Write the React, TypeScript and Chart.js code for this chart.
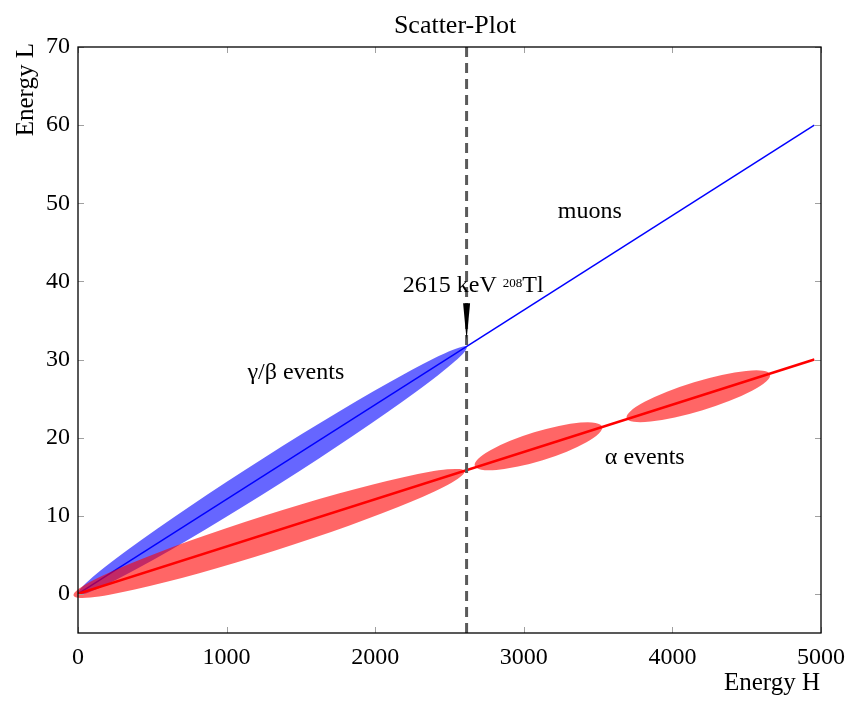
import { useEffect, useRef } from "react";
import { Chart, registerables } from "chart.js";

Chart.register(...registerables);

const FONT = '"Liberation Serif", "Times New Roman", serif';

// axis ticks
const xTicks = [0, 1000, 2000, 3000, 4000, 5000];
const yTicks = [0, 10, 20, 30, 40, 50, 60, 70];

// straight lines (γ/β and α populations)
const gammaLineX = [0, 4955];
const gammaLineY = [0, 60];
const alphaLineX = [0, 4955];
const alphaLineY = [0, 30];

// 2615 keV marker line
const markerX = [2615, 2615];
const markerY = [-5, 70];

// γ/β event band: endpoints and half thickness (y units)
const gammaBandX1 = [0];
const gammaBandY1 = [0];
const gammaBandX2 = [2615];
const gammaBandY2 = [31.6];
const gammaBandHalf = [2.3];

// α event bands
const alphaBandX1 = [-30, 2670, 3692];
const alphaBandY1 = [-0.2, 16.4, 22.5];
const alphaBandX2 = [2600, 3527, 4657];
const alphaBandY2 = [15.7, 21.4, 28.1];
const alphaBandHalf = [2.45, 1.95, 1.95];

// arrow (x, top y, tip y)
const arrowX = [2615];
const arrowTopY = [37.2];
const arrowTipY = [32.5];

// annotation texts
const labelTexts = ["muons", "γ/β events", "α events"];
const labelX = [3444, 1466, 3814];
const labelY = [48.9, 28.3, 17.4];
const tlLabelX = 2186;
const tlLabelY = 38.7;

function drawBand(ctx: CanvasRenderingContext2D, xs: any, ys: any, x1: number, y1: number, x2: number, y2: number, half: number, color: string) {
  const px1 = xs.getPixelForValue(x1);
  const py1 = ys.getPixelForValue(y1);
  const px2 = xs.getPixelForValue(x2);
  const py2 = ys.getPixelForValue(y2);
  const cx = (px1 + px2) / 2;
  const cy = (py1 + py2) / 2;
  const dx = px2 - px1;
  const dy = py2 - py1;
  const ang = Math.atan2(dy, dx);
  const a = Math.sqrt(dx * dx + dy * dy) / 2;
  const vert = Math.abs(ys.getPixelForValue(0) - ys.getPixelForValue(half));
  const b = vert * Math.cos(ang);
  ctx.save();
  ctx.fillStyle = color;
  ctx.beginPath();
  ctx.ellipse(cx, cy, a, Math.abs(b), ang, 0, Math.PI * 2);
  ctx.fill();
  ctx.restore();
}

const overlayPlugin = {
  id: "overlay",
  beforeDatasetDraw(chart: any, args: any) {
    const ds = chart.data.datasets[args.index];
    const ctx = chart.ctx;
    const xs = chart.scales.x;
    const ys = chart.scales.y;
    if (ds.label === "gamma") {
      for (let i = 0; i < gammaBandX1.length; i++) {
        drawBand(ctx, xs, ys, gammaBandX1[i], gammaBandY1[i], gammaBandX2[i], gammaBandY2[i], gammaBandHalf[i], "rgba(0,0,255,0.6)");
      }
    }
    if (ds.label === "alpha") {
      for (let i = 0; i < alphaBandX1.length; i++) {
        drawBand(ctx, xs, ys, alphaBandX1[i], alphaBandY1[i], alphaBandX2[i], alphaBandY2[i], alphaBandHalf[i], "rgba(255,0,0,0.6)");
      }
    }
  },
  afterDatasetsDraw(chart: any) {
    const ctx = chart.ctx;
    const xs = chart.scales.x;
    const ys = chart.scales.y;
    ctx.save();
    // arrow
    for (let i = 0; i < arrowX.length; i++) {
      const ax = xs.getPixelForValue(arrowX[i]);
      const at = ys.getPixelForValue(arrowTopY[i]);
      const ab = ys.getPixelForValue(arrowTipY[i]);
      ctx.fillStyle = "#000";
      ctx.beginPath();
      ctx.moveTo(ax - 3.5, at);
      ctx.lineTo(ax + 3.5, at);
      ctx.lineTo(ax, ab);
      ctx.closePath();
      ctx.fill();
    }
    // labels
    ctx.fillStyle = "#000";
    ctx.font = `24px ${FONT}`;
    ctx.textAlign = "center";
    ctx.textBaseline = "middle";
    for (let i = 0; i < labelTexts.length; i++) {
      ctx.fillText(labelTexts[i], xs.getPixelForValue(labelX[i]), ys.getPixelForValue(labelY[i]));
    }
    // 2615 keV 208Tl
    ctx.textAlign = "left";
    ctx.textBaseline = "alphabetic";
    let tx = xs.getPixelForValue(tlLabelX);
    const ty = ys.getPixelForValue(tlLabelY);
    ctx.font = `24px ${FONT}`;
    const p1 = "2615 keV ";
    ctx.fillText(p1, tx, ty);
    tx += ctx.measureText(p1).width;
    ctx.font = `13px ${FONT}`;
    ctx.fillText("208", tx, ty - 5);
    tx += ctx.measureText("208").width;
    ctx.font = `24px ${FONT}`;
    ctx.fillText("Tl", tx, ty);
    ctx.restore();
  },
  afterDraw(chart: any) {
    const ctx = chart.ctx;
    const { left, right, top, bottom } = chart.chartArea;
    const xs = chart.scales.x;
    const ys = chart.scales.y;
    ctx.save();
    // tick marks inside on all sides
    ctx.strokeStyle = "#a0a0a0";
    ctx.lineWidth = 1;
    ctx.beginPath();
    for (const v of xTicks) {
      const px = Math.round(xs.getPixelForValue(v)) + 0.5;
      ctx.moveTo(px, bottom);
      ctx.lineTo(px, bottom - 6);
      ctx.moveTo(px, top);
      ctx.lineTo(px, top + 6);
    }
    for (const v of yTicks) {
      const py = Math.round(ys.getPixelForValue(v)) + 0.5;
      ctx.moveTo(left, py);
      ctx.lineTo(left + 6, py);
      ctx.moveTo(right, py);
      ctx.lineTo(right - 6, py);
    }
    ctx.stroke();
    // frame
    ctx.strokeStyle = "#000";
    ctx.lineWidth = 1.3;
    ctx.strokeRect(left, top, right - left, bottom - top);
    // title
    ctx.fillStyle = "#000";
    ctx.font = `26px ${FONT}`;
    ctx.textAlign = "center";
    ctx.textBaseline = "alphabetic";
    ctx.fillText("Scatter-Plot", (left + right) / 2 + 5.5, top - 14);
    // x title
    ctx.font = `25px ${FONT}`;
    ctx.textAlign = "right";
    ctx.fillText("Energy H", right - 1, bottom + 57);
    // y title
    ctx.translate(left - 45, top - 4);
    ctx.rotate(-Math.PI / 2);
    ctx.textAlign = "right";
    ctx.fillText("Energy L", 0, 0);
    ctx.restore();
  },
};

function pts(xsArr: number[], ysArr: number[]) {
  return xsArr.map((x, i) => ({ x, y: ysArr[i] }));
}

export default function App() {
  const ref = useRef<HTMLCanvasElement | null>(null);
  useEffect(() => {
    if (!ref.current) return;
    const chart = new Chart(ref.current, {
      type: "line",
      data: {
        datasets: [
          {
            label: "marker",
            data: pts(markerX, markerY),
            borderColor: "#5a5a5a",
            borderWidth: 3,
            borderDash: [10, 6],
            pointRadius: 0,
            order: 0,
          },
          {
            label: "alpha",
            data: pts(alphaLineX, alphaLineY),
            borderColor: "#ff0000",
            borderWidth: 2.5,
            pointRadius: 0,
            order: 1,
          },
          {
            label: "gamma",
            data: pts(gammaLineX, gammaLineY),
            borderColor: "#0000ff",
            borderWidth: 1.5,
            pointRadius: 0,
            order: 2,
          },
        ],
      },
      options: {
        animation: false,
        responsive: false,
        layout: { padding: { top: 47, right: 25, left: 0, bottom: 0 } },
        plugins: {
          legend: { display: false },
          title: { display: false },
          tooltip: { enabled: false },
        },
        scales: {
          x: {
            type: "linear",
            min: 0,
            max: 5000,
            grid: { display: false, drawTicks: false },
            border: { display: false },
            afterBuildTicks: (s: any) => {
              s.ticks = xTicks.map((v) => ({ value: v }));
            },
            afterFit: (s: any) => {
              s.height = 74;
              s.paddingLeft = 0;
              s.paddingRight = 0;
            },
            ticks: {
              color: "#000",
              font: { family: FONT, size: 24 },
              padding: 10,
              maxRotation: 0,
              callback: (v: any) => String(v),
            },
          },
          y: {
            type: "linear",
            min: -5,
            max: 70,
            grid: { display: false, drawTicks: false },
            border: { display: false },
            afterBuildTicks: (s: any) => {
              s.ticks = yTicks.map((v) => ({ value: v }));
            },
            afterFit: (s: any) => {
              s.width = 78;
              s.paddingTop = 0;
              s.paddingBottom = 0;
            },
            ticks: {
              color: "#000",
              font: { family: FONT, size: 24 },
              padding: 8,
              callback: (v: any) => String(v),
            },
          },
        },
      },
      plugins: [overlayPlugin],
    });
    return () => chart.destroy();
  }, []);
  return (
    <div style={{ width: 846, height: 707 }}>
      <style>{"body{margin:0}"}</style>
      <canvas ref={ref} width={846} height={707} style={{ display: "block" }} />
    </div>
  );
}
